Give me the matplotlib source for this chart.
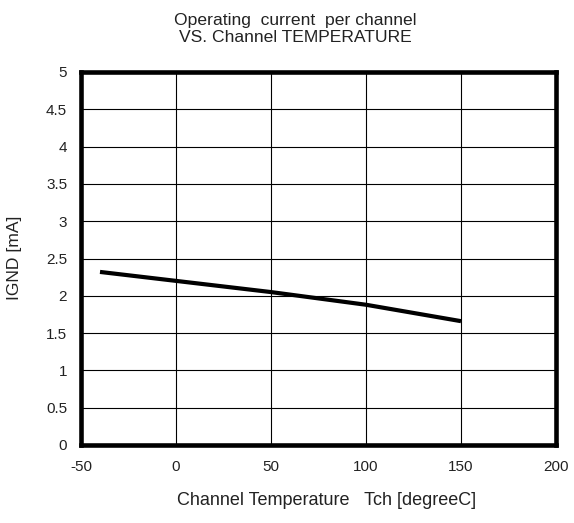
import matplotlib
matplotlib.use("Agg")
import matplotlib.pyplot as plt

temps = [-40, 0, 50, 100, 150]
igmd = [2.32, 2.20, 2.05, 1.88, 1.66]
xticks = [-50, 0, 50, 100, 150, 200]
yticks = [0, 0.5, 1, 1.5, 2, 2.5, 3, 3.5, 4, 4.5, 5]
ytick_labels = ["0", "0.5", "1", "1.5", "2", "2.5", "3", "3.5", "4", "4.5", "5"]

plt.rcParams['font.family'] = ['Liberation Sans', 'DejaVu Sans']
plt.rcParams['axes.unicode_minus'] = False

W, H = 574, 523
fig = plt.figure(figsize=(W/100, H/100), dpi=100)
L, R, T, B = 81, 556, 72, 445
ax = fig.add_axes([L/W, 1-B/H, (R-L)/W, (B-T)/H])

ax.plot(temps, igmd, color='black', linewidth=3, solid_capstyle='butt')
ax.set_xlim(-50, 200)
ax.set_ylim(0, 5)
ax.set_xticks(xticks)
ax.set_yticks(yticks)
ax.set_yticklabels(ytick_labels)
ax.grid(True, color='black', linewidth=0.8)
ax.set_axisbelow(True)
for s in ax.spines.values():
    s.set_linewidth(3.3)
    s.set_color('black')
ax.tick_params(length=0, labelsize=11, colors='#222222')
ax.tick_params(axis='x', pad=11)
ax.tick_params(axis='y', pad=10)

fs = 12.6
fig.text(295/W, 1-25/H, "Operating  current  per channel", ha='center', va='baseline', fontsize=fs, color='#222222')
fig.text(295/W, 1-42/H, "VS. Channel TEMPERATURE", ha='center', va='baseline', fontsize=fs, color='#222222')
fig.text(327/W, 1-505/H, "Channel Temperature   Tch [degreeC]", ha='center', va='baseline', fontsize=13, color='#222222')
fig.text(15/W, 1-258/H, "IGND [mA]", ha='center', va='center', rotation=90, fontsize=fs, color='#222222')

fig.savefig("out.png", dpi=100)
